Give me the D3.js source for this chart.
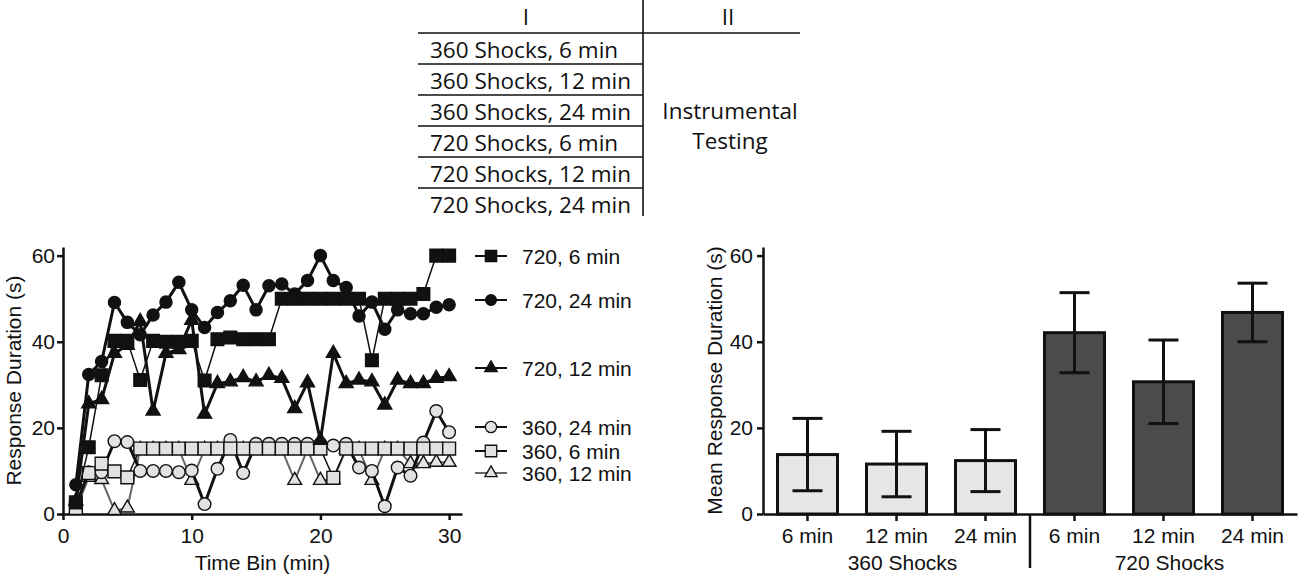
<!DOCTYPE html>
<html>
<head>
<meta charset="utf-8">
<script src="https://cdn.jsdelivr.net/npm/d3@7"></script>
<style>
body { margin: 0; background: #fff; }
svg { display: block; background: #fff; font-family: "Liberation Sans", Arial, sans-serif; }
.axis path, .axis line { stroke: #111; stroke-width: 2.5; }
.axis text { font-size: 21px; fill: #111; font-family: "Liberation Sans", Arial, sans-serif; }
.lbl { font-size: 21px; fill: #111; }
.tbl text { font-family: "Open Sans", sans-serif; font-size: 22.5px; fill: #111; }
.tbl line { stroke: #111; stroke-width: 1.6; }
</style>
</head>
<body>
<svg width="1300" height="577"></svg>
<script>
const width = 1300;
const height = 577;

// ---- data: line chart (response duration per 1-min bin) ----
const timeBins = [1, 2, 3, 4, 5, 6, 7, 8, 9, 10, 11, 12, 13, 14, 15,
                  16, 17, 18, 19, 20, 21, 22, 23, 24, 25, 26, 27, 28, 29, 30];
const s720min6  = [2.7, 15.5, 32.2, 40.2, 40.2, 31.1, 40.2, 40, 40, 40.2, 31, 40.6, 41, 40.6, 40.6,
                   40.6, 50, 50, 50, 50, 50, 50, 50, 35.7, 50, 50, 50, 51.1, 60, 60];
const s720min24 = [6.8, 32.4, 35.4, 49.1, 44.5, 41.6, 46.2, 49.2, 53.8, 47.4, 43.3, 46.8, 49.5, 53.1, 47.4,
                   53, 53.4, 51.1, 54.2, 60, 54.2, 52.6, 46, 49.2, 42.9, 47.4, 46.5, 46.5, 48, 48.6];
const s720min12 = [3, 25.6, 26.6, 37.3, 39.2, 44.7, 23.9, 37.3, 38.2, 45, 23.2, 30.3, 30.7, 31.7, 30.7,
                   32.2, 31.5, 24.5, 30.5, 17.1, 37.3, 30.3, 31.1, 30.7, 25.3, 31.1, 30.3, 30.3, 31.5, 31.9];
const s360min24 = [2, 9.7, 9.7, 16.9, 16.7, 10, 10, 10, 9.7, 10.1, 2.3, 10.5, 17.2, 9.5, 16.3,
                   16.3, 16.3, 16.3, 16.3, 16.3, 15.9, 16.3, 10.8, 10, 1.8, 10.8, 8.9, 16.6, 23.9, 19];
const s360min6  = [1.4, 9.5, 11.7, 9.9, 8.5, 15.2, 15.2, 15.2, 15.2, 15.2, 15.2, 15.2, 15.2, 15.2, 15.2,
                   15.2, 15.2, 15.2, 15.2, 15.2, 8.4, 15.2, 15.2, 15.2, 15.2, 15.2, 15.2, 15.2, 15.2, 15.2];
const s360min12 = [1, 8.5, 8, 0.8, 1.4, 15, 15, 15, 15, 7.8, 15, 15, 15, 15, 15,
                   15, 15, 7.8, 15, 7.8, 8, 15, 15, 7.8, 15, 15, 11.7, 11.7, 12, 12];
const xTicks = [0, 10, 20, 30];
const yTicks = [0, 20, 40, 60];

// ---- data: bar chart (mean +- sem) ----
const barGroups = ['360 Shocks', '720 Shocks'];
const barLabels = ['6 min', '12 min', '24 min'];
const barMeans = [13.8, 11.6, 12.4, 42.1, 30.7, 46.8];
const barSem   = [8.4, 7.6, 7.2, 9.3, 9.7, 6.8];

// ---- data: design table ----
const tableHeads = ['I', 'II'];
const tableRows = ['360 Shocks, 6 min', '360 Shocks, 12 min', '360 Shocks, 24 min',
                   '720 Shocks, 6 min', '720 Shocks, 12 min', '720 Shocks, 24 min'];
const tablePhase2 = ['Instrumental', 'Testing'];

const svg = d3.select('svg');

// series drawn bottom to top
const series = [
  { name: '360, 12 min', values: s360min12, sym: d3.symbolTriangle, size: 82,  fill: '#e2e2e2', line: '#666', lw: 2,   legendY: 473 },
  { name: '360, 24 min', values: s360min24, sym: d3.symbolCircle,   size: 125, fill: '#e2e2e2', line: '#111', lw: 3,   legendY: 427 },
  { name: '360, 6 min',  values: s360min6,  sym: d3.symbolSquare,   size: 165, fill: '#e2e2e2', line: '#111', lw: 1.5, legendY: 451 },
  { name: '720, 12 min', values: s720min12, sym: d3.symbolTriangle, size: 85,  fill: '#111',    line: '#111', lw: 3,   legendY: 368 },
  { name: '720, 24 min', values: s720min24, sym: d3.symbolCircle,   size: 115, fill: '#111',    line: '#111', lw: 3,   legendY: 300 },
  { name: '720, 6 min',  values: s720min6,  sym: d3.symbolSquare,   size: 160, fill: '#111',    line: '#111', lw: 1.5, legendY: 256 }
];

// ================= left: line chart =================
const xL = d3.scaleLinear().domain([0, 31]).range([63, 462]);
const yL = d3.scaleLinear().domain([0, 62]).range([514, 247]);

const gL = svg.append('g');

gL.append('g').attr('class', 'axis')
  .attr('transform', 'translate(0,' + yL(0) + ')')
  .call(d3.axisBottom(xL).tickValues(xTicks).tickSize(6).tickPadding(8).tickSizeOuter(0));
gL.append('g').attr('class', 'axis')
  .attr('transform', 'translate(' + xL(0) + ',0)')
  .call(d3.axisLeft(yL).tickValues(yTicks).tickSize(6).tickPadding(2).tickSizeOuter(0));

gL.append('text').attr('class', 'lbl')
  .attr('x', (xL.range()[0] + xL.range()[1]) / 2).attr('y', 570)
  .attr('text-anchor', 'middle').text('Time Bin (min)');
gL.append('text').attr('class', 'lbl')
  .attr('transform', 'translate(13,' + (yL(0) + yL(62)) / 2 + ') rotate(-90)')
  .attr('text-anchor', 'middle').attr('dominant-baseline', 'central')
  .text('Response Duration (s)');

const line = d3.line().x(d => xL(d[0])).y(d => yL(d[1]));

series.forEach(s => {
  const pts = timeBins.map((t, i) => [t, s.values[i]]);
  const g = gL.append('g');
  g.append('path').datum(pts).attr('d', line)
    .attr('fill', 'none').attr('stroke', s.line).attr('stroke-width', s.lw)
    .attr('stroke-linejoin', 'round');
  g.selectAll('path.pt').data(pts).enter().append('path')
    .attr('class', 'pt')
    .attr('transform', d => 'translate(' + xL(d[0]) + ',' + yL(d[1]) + ')')
    .attr('d', d3.symbol().type(s.sym).size(s.size))
    .attr('fill', s.fill).attr('stroke', '#111').attr('stroke-width', 1.4);

  // legend entry
  const lg = svg.append('g').attr('transform', 'translate(491,' + s.legendY + ')');
  lg.append('line').attr('x1', -16).attr('x2', 16)
    .attr('stroke', s.line).attr('stroke-width', 2);
  lg.append('path').attr('d', d3.symbol().type(s.sym).size(s.size * 0.8))
    .attr('fill', s.fill).attr('stroke', '#111').attr('stroke-width', 1.3);
  lg.append('text').attr('class', 'lbl').attr('x', 31).attr('dy', '0.36em').text(s.name);
});

// ================= right: bar chart =================
const xB = d3.scaleBand().domain(d3.range(barMeans.length))
  .range([763, 1297]).paddingInner(0.326).paddingOuter(0.163);
const yB = d3.scaleLinear().domain([0, 62]).range([514, 247]);

const gB = svg.append('g');

gB.selectAll('rect').data(barMeans).enter().append('rect')
  .attr('x', (d, i) => xB(i))
  .attr('y', d => yB(d))
  .attr('width', xB.bandwidth())
  .attr('height', d => yB(0) - yB(d))
  .attr('fill', (d, i) => i < 3 ? '#e6e6e6' : '#4b4b4b')
  .attr('stroke', '#111').attr('stroke-width', 3);

const err = gB.selectAll('g.err').data(barMeans).enter().append('g').attr('class', 'err')
  .attr('transform', (d, i) => 'translate(' + (xB(i) + xB.bandwidth() / 2) + ',0)')
  .attr('stroke', '#111').attr('stroke-width', 3);
err.append('line').attr('y1', (d, i) => yB(d + barSem[i])).attr('y2', (d, i) => yB(d - barSem[i]));
err.append('line').attr('x1', -15).attr('x2', 15)
  .attr('y1', (d, i) => yB(d + barSem[i])).attr('y2', (d, i) => yB(d + barSem[i]));
err.append('line').attr('x1', -15).attr('x2', 15)
  .attr('y1', (d, i) => yB(d - barSem[i])).attr('y2', (d, i) => yB(d - barSem[i]));

gB.append('g').attr('class', 'axis')
  .attr('transform', 'translate(0,' + yB(0) + ')')
  .call(d3.axisBottom(xB).tickFormat(i => barLabels[i % 3]).tickSize(7).tickPadding(7).tickSizeOuter(0));
gB.append('g').attr('class', 'axis')
  .attr('transform', 'translate(' + xB.range()[0] + ',0)')
  .call(d3.axisLeft(yB).tickValues(yTicks).tickSize(6).tickPadding(4).tickSizeOuter(0));

// group separator and labels
const sepX = (xB(2) + xB.bandwidth() + xB(3)) / 2;
gB.append('line').attr('x1', sepX).attr('x2', sepX)
  .attr('y1', yB(0)).attr('y2', 568)
  .attr('stroke', '#111').attr('stroke-width', 2.5);
barGroups.forEach((name, gi) => {
  const cx = (xB(gi * 3) + xB(gi * 3 + 2) + xB.bandwidth()) / 2 + 6;
  gB.append('text').attr('class', 'lbl').attr('x', cx).attr('y', 570)
    .attr('text-anchor', 'middle').text(name);
});

gB.append('text').attr('class', 'lbl')
  .attr('transform', 'translate(714,' + (yB(0) + yB(62)) / 2 + ') rotate(-90)')
  .attr('text-anchor', 'middle').attr('dominant-baseline', 'central')
  .text('Mean Response Duration (s)');

// ================= top: design table =================
const tbl = svg.append('g').attr('class', 'tbl');
const rowH = 31, headY = 33, colX = 643;

tbl.append('text').attr('x', 526).attr('y', 25).attr('text-anchor', 'middle').text(tableHeads[0]);
tbl.append('text').attr('x', 728).attr('y', 25).attr('text-anchor', 'middle').text(tableHeads[1]);
tbl.append('line').attr('x1', 418).attr('x2', 800).attr('y1', headY).attr('y2', headY);
tbl.append('line').attr('x1', colX).attr('x2', colX).attr('y1', 0).attr('y2', 216);

tableRows.forEach((r, i) => {
  tbl.append('text').attr('x', 430).attr('y', headY + 24.5 + i * rowH).text(r);
  if (i > 0) {
    tbl.append('line').attr('x1', 418).attr('x2', colX)
      .attr('y1', headY + i * rowH).attr('y2', headY + i * rowH);
  }
});
tablePhase2.forEach((t, i) => {
  tbl.append('text').attr('x', 730).attr('y', 119 + i * 30)
    .attr('text-anchor', 'middle').text(t);
});
</script>
</body>
</html>
